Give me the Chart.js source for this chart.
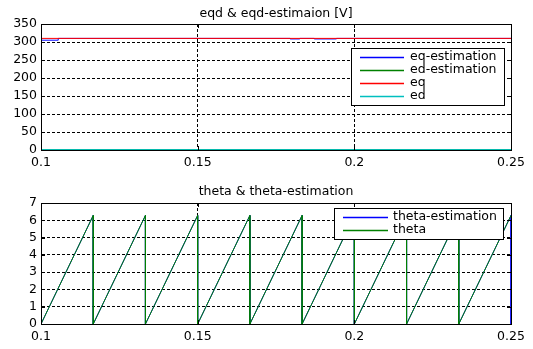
<!DOCTYPE html>
<html><head><meta charset="utf-8">
<script src="https://cdn.jsdelivr.net/npm/chart.js@4.4.1/dist/chart.umd.min.js"></script>
<style>
html,body{margin:0;padding:0;background:#fff;}
#wrap{position:relative;width:533px;height:349px;overflow:hidden;}
canvas{position:absolute;left:0;}
</style></head><body>
<div id="wrap">
<canvas id="c1" width="533" height="175" style="top:0;width:533px;height:175px"></canvas>
<canvas id="c2" width="533" height="174" style="top:175px;width:533px;height:174px"></canvas>
</div>
<script>
// ---- data ----
const timeTicks = [0.1, 0.15, 0.2, 0.25];
const eqdTicks = [0, 50, 100, 150, 200, 250, 300, 350];
const thetaTicks = [0, 1, 2, 3, 4, 5, 6, 7];

const eqEstT = [0.1, 0.1055, 0.1055, 0.1795, 0.1795, 0.1826, 0.1826, 0.1872, 0.1872, 0.1943, 0.1943, 0.25];
const eqEstV = [305, 305, 310, 310, 308.5, 308.5, 310, 310, 308.5, 308.5, 310, 310];
const edEstT = [0.1, 0.25];
const edEstV = [0.8, 0.8];
const eqT = [0.1, 0.25];
const eqV = [310, 310];
const edT = [0.1, 0.25];
const edV = [1, 1];

const thetaT = [0.1, 0.11667, 0.11667, 0.13333, 0.13333, 0.15, 0.15, 0.16667, 0.16667,
  0.18333, 0.18333, 0.2, 0.2, 0.21667, 0.21667, 0.23333, 0.23333, 0.25];
const thetaV = [0, 6.28, 0, 6.28, 0, 6.28, 0, 6.28, 0, 6.28, 0, 6.28, 0, 6.28, 0, 6.28, 0, 6.28];
const thetaEstT = [0.1, 0.11667, 0.11667, 0.13333, 0.13333, 0.15, 0.15, 0.16667, 0.16667,
  0.18333, 0.18333, 0.2, 0.2, 0.21667, 0.21667, 0.23333, 0.23333, 0.25, 0.25];
const thetaEstV = [0, 6.28, 0, 6.28, 0, 6.28, 0, 6.28, 0, 6.28, 0, 6.28, 0, 6.28, 0, 6.28, 0, 6.28, 0];

// ---- helpers ----
const pts = (t, v) => t.map((x, i) => ({x: x, y: v[i]}));
const FONT = "'DejaVu Sans', sans-serif";
Chart.defaults.font.family = FONT;
Chart.defaults.font.size = 12.5;
Chart.defaults.color = '#000';

const deco = {
  id: 'deco',
  afterDraw(chart, args, o) {
    const ctx = chart.ctx, a = chart.chartArea;
    const xs = chart.scales.x, ys = chart.scales.y;
    ctx.save();
    // inward ticks
    ctx.strokeStyle = '#000'; ctx.lineWidth = 1; ctx.setLineDash([]);
    ctx.beginPath();
    ys.ticks.forEach(t => {
      const p = Math.round(ys.getPixelForValue(t.value)) + 0.5;
      ctx.moveTo(a.left, p); ctx.lineTo(a.left + 4, p);
      ctx.moveTo(a.right, p); ctx.lineTo(a.right - 4, p);
    });
    xs.ticks.forEach(t => {
      const p = Math.round(xs.getPixelForValue(t.value)) + 0.5;
      ctx.moveTo(p, a.bottom); ctx.lineTo(p, a.bottom - 4);
      ctx.moveTo(p, a.top); ctx.lineTo(p, a.top + 4);
    });
    ctx.stroke();
    // frame
    ctx.strokeRect(Math.round(a.left) + 0.5, Math.round(a.top) + 0.5,
      Math.round(a.right - a.left), Math.round(a.bottom - a.top));
    // title
    ctx.fillStyle = '#000';
    ctx.font = "12.5px " + FONT;
    ctx.textAlign = 'center'; ctx.textBaseline = 'middle';
    ctx.fillText(o.title, (a.left + a.right) / 2, o.titleY);
    // legend
    const L = o.legend;
    ctx.fillStyle = '#fff';
    ctx.fillRect(L.x1, L.y1, L.x2 - L.x1, L.y2 - L.y1);
    ctx.strokeStyle = '#000';
    ctx.strokeRect(L.x1 + 0.5, L.y1 + 0.5, L.x2 - L.x1, L.y2 - L.y1);
    ctx.textAlign = 'left';
    L.rows.forEach((r, i) => {
      const ds = chart.data.datasets[r];
      const y = L.rowY[i];
      ctx.strokeStyle = ds.borderColor; ctx.lineWidth = 1.3;
      ctx.beginPath(); ctx.moveTo(L.lx1, y + 0.5); ctx.lineTo(L.lx2, y + 0.5); ctx.stroke();
      ctx.fillStyle = '#000';
      ctx.fillText(ds.label, L.tx, y);
    });
    ctx.restore();
  }
};

function makeScales(yTicks, yMin, yMax) {
  return {
    x: {
      type: 'linear', min: 0.1, max: 0.25,
      afterBuildTicks: s => { s.ticks = timeTicks.map(v => ({value: v})); },
      afterFit: s => { s.height = 25; },
      ticks: { padding: 5, maxRotation: 0, autoSkip: false, callback: v => String(v) },
      grid: { color: '#000', lineWidth: 1, drawTicks: false },
      border: { display: true, color: '#000', dash: [3, 2] }
    },
    y: {
      type: 'linear', min: yMin, max: yMax,
      afterBuildTicks: s => { s.ticks = yTicks.map(v => ({value: v})); },
      afterFit: s => { s.width = 41; },
      ticks: { padding: 4, autoSkip: false, callback: v => String(v) },
      grid: { color: '#000', lineWidth: 1, drawTicks: false },
      border: { display: true, color: '#000', dash: [3, 2] }
    }
  };
}

const lineDs = (label, t, v, color, order) => ({
  label, data: pts(t, v), borderColor: color, backgroundColor: color,
  borderWidth: 1, pointRadius: 0, tension: 0, fill: false, order
});

new Chart(document.getElementById('c1'), {
  type: 'line',
  data: { datasets: [
    lineDs('eq-estimation', eqEstT, eqEstV, '#0000ff', 3),
    lineDs('ed-estimation', edEstT, edEstV, '#008000', 2),
    lineDs('eq', eqT, eqV, '#ff0000', 1),
    lineDs('ed', edT, edV, '#00bfbf', 0)
  ]},
  options: {
    responsive: false, animation: false,
    layout: { padding: { top: 24, right: 22, left: 0, bottom: 0 } },
    scales: makeScales(eqdTicks, 0, 350),
    plugins: {
      legend: { display: false }, tooltip: { enabled: false },
      deco: {
        title: 'eqd & eqd-estimaion [V]', titleY: 14,
        legend: { x1: 351, y1: 48, x2: 504, y2: 105, lx1: 360, lx2: 404, tx: 410,
          rows: [0, 1, 2, 3], rowY: [57, 70, 83, 96] }
      }
    }
  },
  plugins: [deco]
});

new Chart(document.getElementById('c2'), {
  type: 'line',
  data: { datasets: [
    lineDs('theta-estimation', thetaEstT, thetaEstV, '#0000ff', 1),
    lineDs('theta', thetaT, thetaV, '#008000', 0)
  ]},
  options: {
    responsive: false, animation: false,
    layout: { padding: { top: 28, right: 22, left: 0, bottom: 0 } },
    scales: makeScales(thetaTicks, 0, 7),
    plugins: {
      legend: { display: false }, tooltip: { enabled: false },
      deco: {
        title: 'theta & theta-estimation', titleY: 17,
        legend: { x1: 334, y1: 33, x2: 503, y2: 64, lx1: 343, lx2: 388, tx: 393,
          rows: [0, 1], rowY: [42, 55] }
      }
    }
  },
  plugins: [deco]
});
</script>
</body></html>
